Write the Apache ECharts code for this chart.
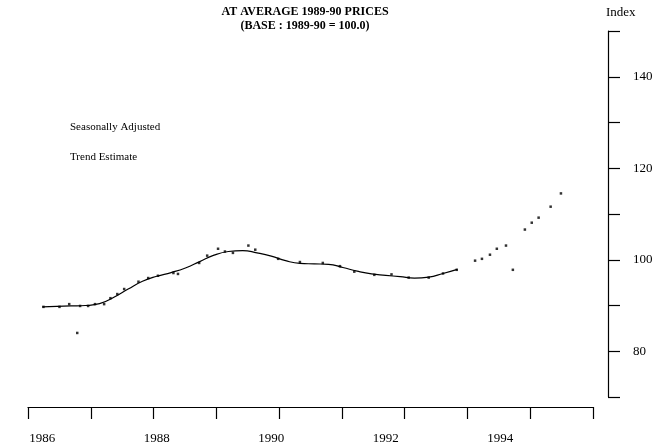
<!DOCTYPE html>
<html>
<head>
<meta charset="utf-8">
<script src="https://cdn.jsdelivr.net/npm/echarts@6/dist/echarts.min.js"></script>
<style>
  html, body { margin: 0; padding: 0; background: #fff; }
  #chart { width: 671px; height: 446px; }
</style>
</head>
<body>
<div id="chart"></div>
<script>
// seasonally adjusted readings (decimal year, index)
const saYears = [1986.02, 1986.3, 1986.47, 1986.61, 1986.66, 1986.8, 1986.92, 1987.08, 1987.19, 1987.31,
  1987.43, 1987.68, 1987.85, 1988.02, 1988.29, 1988.37, 1988.74, 1988.88, 1989.07, 1989.19,
  1989.33, 1989.6, 1989.72, 1990.12, 1990.5, 1990.9, 1991.2, 1991.45, 1991.8, 1992.1,
  1992.4, 1992.75, 1993.0, 1993.24, 1993.56, 1993.68, 1993.82, 1993.94, 1994.1, 1994.22,
  1994.43, 1994.55, 1994.67, 1994.88, 1995.06];
const saValues = [89.7, 89.7, 90.3, 84.0, 89.9, 89.9, 90.3, 90.3, 91.6, 92.5,
  93.6, 95.2, 96.0, 96.5, 97.1, 96.9, 99.3, 100.9, 102.4, 101.8,
  101.5, 103.1, 102.2, 100.2, 99.5, 99.3, 98.6, 97.4, 96.7, 96.8,
  96.1, 96.1, 97.0, 97.8, 99.8, 100.2, 101.1, 102.4, 103.1, 97.8,
  106.6, 108.1, 109.2, 111.6, 114.5];

// trend estimate
const trendYears = [1986.0, 1986.25, 1986.5, 1986.75, 1987.0, 1987.25, 1987.5, 1987.75, 1988.0, 1988.25,
  1988.5, 1988.75, 1989.0, 1989.25, 1989.5, 1989.75, 1990.0, 1990.25, 1990.5, 1990.75,
  1991.0, 1991.25, 1991.5, 1991.75, 1992.0, 1992.25, 1992.5, 1992.75, 1993.0, 1993.25];
const trendValues = [89.7, 89.8, 89.9, 90.0, 90.4, 91.8, 93.6, 95.3, 96.4, 97.2,
  98.2, 99.6, 101.0, 101.8, 102.0, 101.5, 100.8, 99.8, 99.2, 99.1,
  99.0, 98.3, 97.5, 96.9, 96.6, 96.3, 96.0, 96.2, 97.0, 97.9];

// axis labels and tick positions
const yearLabels = [1986, 1988, 1990, 1992, 1994];
const xTickYears = [1985.75, 1986.85, 1987.94, 1989.04, 1990.14, 1991.24, 1992.33, 1993.43, 1994.53, 1995.62];

const font = 'Liberation Serif';
const myChart = echarts.init(document.getElementById('chart'));

const option = {
  backgroundColor: '#fff',
  animation: false,
  title: {
    text: 'AT AVERAGE 1989-90 PRICES',
    subtext: '(BASE : 1989-90 = 100.0)',
    left: 300,
    textAlign: 'center',
    top: 1,
    itemGap: 2,
    textStyle: { fontFamily: font, fontSize: 12, fontWeight: 'bold', color: '#000' },
    subtextStyle: { fontFamily: font, fontSize: 12, fontWeight: 'bold', color: '#000' }
  },
  grid: { left: 28, right: 78, top: 31, bottom: 49 },
  xAxis: {
    type: 'value',
    min: 1985.75,
    max: 1995.62,
    offset: 10,
    splitLine: { show: false },
    axisLine: { lineStyle: { color: '#000', width: 1.2 } },
    axisTick: {
      customValues: xTickYears,
      length: 12,
      lineStyle: { color: '#000', width: 1.2 }
    },
    axisLabel: {
      customValues: yearLabels,
      margin: 25,
      color: '#000',
      fontFamily: font,
      fontSize: 13,
      formatter: (v) => String(Math.round(v))
    }
  },
  yAxis: {
    type: 'value',
    position: 'right',
    offset: 15,
    min: 70,
    max: 150,
    interval: 10,
    splitLine: { show: false },
    axisLine: { show: true, lineStyle: { color: '#000', width: 1.2 } },
    axisTick: { show: true, length: 12, lineStyle: { color: '#000', width: 1.2 } },
    axisLabel: {
      margin: 25,
      color: '#000',
      fontFamily: font,
      fontSize: 13,
      formatter: (v) => (v % 20 === 0 && v > 70 && v < 150 ? String(v) : '')
    }
  },
  graphic: [
    { type: 'text', left: 606, top: 6, style: { text: 'Index', font: '13px "Liberation Serif"', fill: '#000' } },
    { type: 'text', left: 70, top: 122, style: { text: 'Seasonally Adjusted', font: '11px "Liberation Serif"', fill: '#000' } },
    { type: 'text', left: 70, top: 152, style: { text: 'Trend Estimate', font: '11px "Liberation Serif"', fill: '#000' } }
  ],
  series: [
    {
      name: 'Trend Estimate',
      type: 'line',
      smooth: true,
      showSymbol: false,
      data: trendYears.map((y, i) => [y, trendValues[i]]),
      lineStyle: { color: '#000', width: 1.2 }
    },
    {
      name: 'Seasonally Adjusted',
      type: 'scatter',
      symbol: 'rect',
      symbolSize: 2.5,
      data: saYears.map((y, i) => [y, saValues[i]]),
      itemStyle: { color: '#000' }
    }
  ]
};

myChart.setOption(option);
</script>
</body>
</html>
